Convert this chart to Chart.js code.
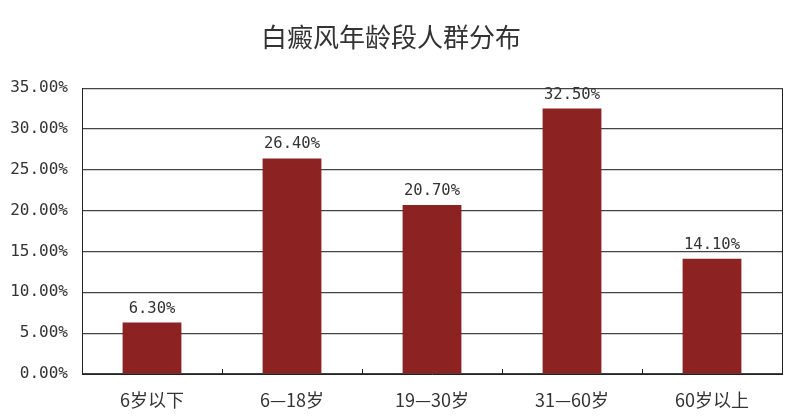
<!DOCTYPE html>
<html>
<head>
<meta charset="utf-8">
<script src="https://cdn.jsdelivr.net/npm/chart.js@4.4.0/dist/chart.umd.min.js"></script>
<style>
  html, body { margin: 0; padding: 0; background: #fff; }
  #wrap { width: 792px; height: 416px; }
</style>
</head>
<body>
<div id="wrap"><canvas id="chart"></canvas></div>
<script>
const titleText = "白癜风年龄段人群分布";
const categories = ["6岁以下", "6—18岁", "19—30岁", "31—60岁", "60岁以上"];
const shares = [6.3, 26.4, 20.7, 32.5, 14.1];
const yMin = 0;
const yMax = 35;
const yStep = 5;

const monoFont = "'DejaVu Sans Mono', monospace";
const cjkFont = "'Noto Sans CJK SC', 'Noto Sans', sans-serif";

// labels above bars, right border and inner x ticks
const extras = {
  id: "extras",
  afterDatasetsDraw(chart) {
    const ctx = chart.ctx;
    const area = chart.chartArea;
    const xs = chart.scales.x;
    ctx.save();
    ctx.strokeStyle = "#222";
    ctx.lineWidth = 1;
    ctx.beginPath();
    ctx.moveTo(area.right + 0.5, area.top);
    ctx.lineTo(area.right + 0.5, area.bottom);
    const n = categories.length;
    for (let i = 1; i < n; i++) {
      const px = Math.round(xs.left + (xs.width / n) * i) + 0.5;
      ctx.moveTo(px, area.bottom);
      ctx.lineTo(px, area.bottom - 5);
    }
    ctx.stroke();

    ctx.fillStyle = "#333";
    ctx.font = "15.5px " + monoFont;
    ctx.textAlign = "center";
    ctx.textBaseline = "middle";
    chart.getDatasetMeta(0).data.forEach((bar, i) => {
      ctx.fillText(shares[i].toFixed(2) + "%", bar.x, bar.y - 14);
    });
    ctx.restore();
  }
};

new Chart(document.getElementById("chart"), {
  type: "bar",
  data: {
    labels: categories,
    datasets: [{
      data: shares,
      backgroundColor: "#8c2222",
      barPercentage: 0.42,
      categoryPercentage: 1
    }]
  },
  options: {
    responsive: true,
    maintainAspectRatio: false,
    animation: false,
    layout: { padding: { left: 0, right: 10, top: 0, bottom: 0 } },
    plugins: {
      legend: { display: false },
      tooltip: { enabled: false },
      title: {
        display: true,
        text: titleText,
        color: "#333",
        font: { family: cjkFont, size: 26, weight: "normal" },
        padding: { top: 22, bottom: 35 }
      }
    },
    scales: {
      x: {
        grid: { display: false },
        border: { display: true, color: "#222", width: 1 },
        ticks: {
          color: "#333",
          padding: 7,
          font: { family: cjkFont, size: 18 }
        },
        afterFit(scale) { scale.height = 42; }
      },
      y: {
        min: yMin,
        max: yMax,
        grid: { color: "#444", lineWidth: 1.2, drawTicks: false },
        border: { display: true, color: "#222", width: 1 },
        ticks: {
          stepSize: yStep,
          color: "#333",
          padding: 14,
          font: { family: monoFont, size: 16 },
          callback: (v) => v.toFixed(2) + "%"
        },
        afterFit(scale) { scale.width = 82; }
      }
    }
  },
  plugins: [extras]
});
</script>
</body>
</html>
